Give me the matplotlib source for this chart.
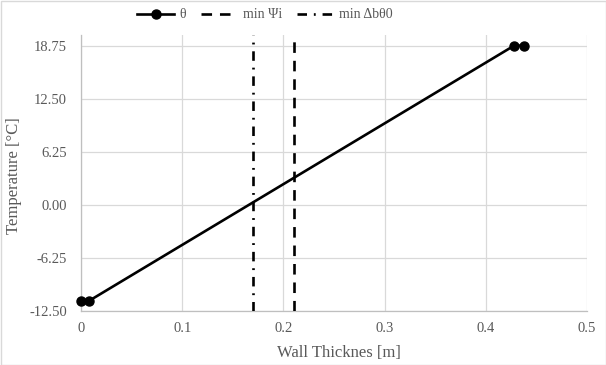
import matplotlib
matplotlib.use("Agg")
import matplotlib.pyplot as plt
from matplotlib.patches import Rectangle

# Data
theta_x = [0.0, 0.008, 0.428, 0.438]
theta_y = [-11.3, -11.3, 18.75, 18.75]
min_psi_x = [0.21, 0.21]
min_psi_y = [-12.5, 20.0]
min_dbt_x = [0.17, 0.17]
min_dbt_y = [-12.5, 20.0]
xticks = [0, 0.1, 0.2, 0.3, 0.4, 0.5]
xtick_labels = ["0", "0.1", "0.2", "0.3", "0.4", "0.5"]
yticks = [-12.5, -6.25, 0.0, 6.25, 12.5, 18.75]
ytick_labels = ["-12.50", "-6.25", "0.00", "6.25", "12.50", "18.75"]

plt.rcParams['font.family'] = ['Liberation Serif', 'DejaVu Serif']
txt = '#595959'
grid = '#d9d9d9'

fig = plt.figure(figsize=(6.06, 3.65), dpi=100)
ax = fig.add_axes([81/606, 54/365, (587-81)/606, (311-35)/365])

ax.plot(theta_x, theta_y, color='black', lw=1.9, marker='o', ms=6.5, label='θ', zorder=4,
        clip_on=False)
ax.plot(min_psi_x, min_psi_y, color='black', lw=1.9, dashes=(4, 3), label='min Ψi', zorder=3)
ax.plot(min_dbt_x, min_dbt_y, color='black', lw=1.9, dashes=(3.6, 2.6, 0.7, 2.6), label='min Δbθ0', zorder=3)

ax.set_xlim(0, 0.5)
ax.set_ylim(-12.5, 20)
ax.set_xticks(xticks)
ax.set_xticklabels(xtick_labels)
ax.set_yticks(yticks)
ax.set_yticklabels(ytick_labels)
ax.tick_params(length=0, labelsize=10.5, colors=txt)
ax.tick_params(axis='y', pad=10)
ax.tick_params(axis='x', pad=8)
ax.grid(True, color=grid, lw=0.9)
ax.set_axisbelow(True)
for s in ['top', 'right']:
    ax.spines[s].set_visible(False)
for s in ['left', 'bottom']:
    ax.spines[s].set_color('#bfbfbf')
    ax.spines[s].set_linewidth(0.9)

fig.text(339/606, 1 - 353/365, 'Wall Thicknes [m]', fontsize=12, color=txt, ha='center', va='center')
fig.text(14/606, 1 - 176/365, 'Temperature [°C]', fontsize=12, color=txt, ha='center', va='center',
         rotation=90)

leg = fig.legend(loc='center', bbox_to_anchor=(265/606, 1 - 15/365), ncol=3, frameon=False,
                 fontsize=10, handlelength=2.6, columnspacing=1.1, handletextpad=0.4,
                 labelcolor=txt)

fig.patches.append(Rectangle((0.5/606, 0.5/365), 1 - 1/606, 1 - 1/365, transform=fig.transFigure,
                             fill=False, edgecolor='#d9d9d9', lw=1))

fig.savefig('out.png', dpi=100)
